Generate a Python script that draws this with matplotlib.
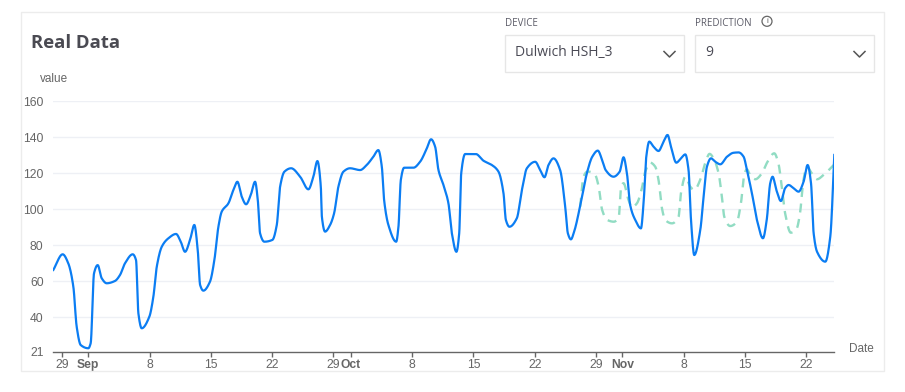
import numpy as np
import pandas as pd
import matplotlib
matplotlib.use("Agg")
import matplotlib.pyplot as plt
import matplotlib.dates as mdates
from matplotlib.patches import Rectangle, Circle

# data: days after Sep 1 and value
blue_days = [-4.0, -2.93, -2.29, -1.71, -1.33, -0.87, 0.0, 0.27, 0.65, 1.07, 1.53, 2.1, 3.05, 3.62,
             4.19, 5.07, 5.45, 5.72, 6.1, 6.97, 7.43, 7.82, 8.39, 9.15, 10.02, 10.56, 11.05, 11.62,
             12.11, 12.5, 12.77, 13.14, 13.9, 14.4, 14.86, 15.24, 16.0, 16.57, 17.03, 17.53, 18.02,
             18.56, 19.05, 19.36, 19.62, 20.11, 21.03, 21.53, 21.91, 22.4, 23.17, 24.2, 25.14, 25.71,
             26.17, 26.56, 26.68, 27.05, 27.62, 28.08, 28.57, 29.14, 29.9, 31.05, 31.8, 32.56, 33.13,
             33.53, 33.79, 34.28, 35.17, 35.43, 35.7, 36.08, 37.14, 37.9, 38.59, 39.16, 39.62, 40.0,
             40.57, 41.14, 41.53, 42.05, 42.37, 42.6, 43.05, 44.27, 45.14, 46.1, 46.86, 47.43, 47.7,
             48.11, 48.95, 49.53, 50.1, 51.05, 51.62, 52.11, 52.57, 53.14, 53.9, 54.48, 54.78, 55.13,
             55.5, 56.25, 57.0, 57.57, 58.2, 58.7, 59.1, 60.0, 60.7, 61.14, 61.53, 61.9, 62.48, 63.13,
             63.43, 63.74, 64.08, 64.57, 65.14, 65.71, 66.17, 66.56, 67.17, 67.7, 68.2, 68.57, 68.85,
             69.22, 69.91, 70.29, 70.67, 71.13, 71.62, 72.2, 72.96, 73.7, 74.29, 74.86, 75.24, 75.81,
             76.38, 77.07, 77.5, 77.9, 78.17, 78.6, 79.12, 79.6, 80.0, 80.57, 81.14, 81.71, 82.17,
             82.56, 82.86, 83.25, 84.19, 84.76, 85.15, 85.22]
blue_vals = [66.3, 75, 70, 57, 34.8, 24.6, 22.8, 25.6, 64.4, 69, 61.7, 58.9, 60.2, 63.5,
             70, 75, 71.8, 42.2, 33.9, 40.3, 51.4, 68.1, 79.2, 83.9, 86.3, 82, 76.4, 83,
             91.3, 77.4, 58, 54.8, 59.8, 71.8, 90.3, 98.7, 103.3, 110.7, 115.3, 107, 102.8,
             108, 115.3, 105.2, 86.7, 82, 83, 91.3, 112.6, 120.9, 122.8, 118.1, 111.1, 118.1,
             126.8, 112.6, 96, 87.6, 91.3, 97.8, 112.6, 120.9, 122.8, 121.8, 124.6, 129.2, 132.9,
             123.7, 105.2, 91.3, 82, 90.3, 116.3, 123.1, 123.1, 126.4, 132.9, 138.9, 134.8, 121.8,
             113.5, 103.3, 86.7, 76.4, 86.7, 120, 130.7, 130.7, 127, 124.6, 120.9, 108.9, 94.1,
             90.3, 95, 110.7, 122.8, 126.4, 121.8, 117.8, 124.6, 128.3, 121.8, 101.4, 86.7, 83.3,
             87.6, 103.3, 120.9, 129.2, 132.6, 127.4, 121.8, 118.1, 120.9, 128.9, 120, 102.4, 94.1, 89.4,
             103.3, 129.2, 137.6, 134.8, 132.4, 137.6, 141.3, 134.8, 125.9, 128.3, 130.5, 121.8, 94.1,
             74.6, 88.5, 107, 123.7, 128.3, 126.4, 125, 129.2, 131.4, 131.6, 129.2, 121.8, 108.9,
             94.1, 83.9, 94.1, 114.5, 118.1, 110.7, 104.6, 111.7, 113.5, 111.7, 109.8, 115.3, 124.6,
             114.5, 86.7, 76.4, 70.9, 84.8, 121.8, 130.2]

pred_days = [56.19, 56.57, 57.0, 57.2, 57.9, 58.3, 58.7, 59.27, 60.03, 60.6, 60.87, 61.14, 61.71,
             62.1, 62.67, 63.24, 63.62, 64.19, 64.76, 65.14, 65.53, 65.9, 66.67, 67.43, 67.7, 68.2,
             68.76, 69.22, 69.9, 70.47, 70.97, 71.43, 72.0, 72.38, 72.65, 73.33, 74.1, 74.55, 74.97,
             75.24, 75.6, 76.2, 76.95, 77.5, 78.36, 78.83, 79.22, 79.6, 80.25, 80.93, 81.3, 81.7,
             82.08, 82.65, 83.25, 84.0, 85.15]
pred_vals = [101.4, 118.1, 120.9, 120.9, 119.1, 112.6, 99.6, 94.1, 93.1, 95.9, 112.6, 114.5, 105.2,
             101.1, 103.3, 111.7, 120.9, 125.9, 123.7, 116.3, 100.6, 94.1, 92.2, 95.9, 108.9, 118.1,
             112.6, 110.7, 116.3, 125.6, 130.8, 128.3, 120, 107, 95.9, 90.7, 93.1, 103.3, 120,
             122.2, 119.1, 116.7, 120, 125.6, 131.1, 125.6, 112.6, 97.8, 87, 89.4, 97.8, 116.3,
             123.7, 120, 116.7, 119.1, 124.6]

tick_dates = ['2020-08-29', '2020-09-01', '2020-09-08', '2020-09-15', '2020-09-22', '2020-09-29',
              '2020-10-01', '2020-10-08', '2020-10-15', '2020-10-22', '2020-10-29', '2020-11-01',
              '2020-11-08', '2020-11-15', '2020-11-22']
tick_labels = ['29', 'Sep', '8', '15', '22', '29', 'Oct', '8', '15', '22', '29', 'Nov', '8', '15', '22']
y_ticks = [21, 40, 60, 80, 100, 120, 140, 160]

base = pd.Timestamp('2020-09-01')


def to_num(days):
    return mdates.date2num(base + pd.to_timedelta(days, unit='D'))


# monotone cubic (like the chart's curve), just for drawing the line
def monotone(x, y, n=24):
    x = np.asarray(x, float)
    y = np.asarray(y, float)
    h = np.diff(x)
    d = np.diff(y) / h
    m = np.zeros_like(y)
    m[0], m[-1] = d[0], d[-1]
    for i in range(1, len(x) - 1):
        if d[i - 1] * d[i] <= 0:
            m[i] = 0
        else:
            w1 = 2 * h[i] + h[i - 1]
            w2 = h[i] + 2 * h[i - 1]
            m[i] = (w1 + w2) / (w1 / d[i - 1] + w2 / d[i])
    xs, ys = [], []
    for i in range(len(x) - 1):
        t = np.linspace(0, 1, n, endpoint=False)
        h00 = 2 * t**3 - 3 * t**2 + 1
        h10 = t**3 - 2 * t**2 + t
        h01 = -2 * t**3 + 3 * t**2
        h11 = t**3 - t**2
        xs.append(x[i] + t * h[i])
        ys.append(h00 * y[i] + h10 * h[i] * m[i] + h01 * y[i + 1] + h11 * h[i] * m[i + 1])
    xs.append([x[-1]])
    ys.append([y[-1]])
    return np.concatenate(xs), np.concatenate(ys)


W, H = 905, 392
fig = plt.figure(figsize=(W / 100, H / 100), dpi=100)


def fx(px):
    return px / W


def fy(py):
    return 1 - py / H


ui_font = 'Open Sans'
tick_font = 'Liberation Sans'
gray = '#666666'

# card + header
fig.add_artist(Rectangle((fx(20.5), fy(371)), (884 - 20.5) / W, (371 - 11.5) / H,
                         transform=fig.transFigure, fill=False, ec='#ececec', lw=1))
fig.text(fx(31), fy(43), 'Real Data', fontsize=13.3, fontweight='bold', family=ui_font,
         color='#4a4a52', va='center')

for bx, label, val in [(504.5, 'DEVICE', 'Dulwich HSH_3'), (694.5, 'PREDICTION', '9')]:
    fig.add_artist(Rectangle((fx(bx), fy(71.5)), 179 / W, 36.5 / H, transform=fig.transFigure,
                             fill=False, ec='#e6e6e6', lw=1))
    fig.text(fx(bx + 0.5), fy(23.5), label, fontsize=7, family=ui_font, color='#5a5a66', va='center')
    fig.text(fx(bx + 10.5), fy(53), val, fontsize=10, family=ui_font, color='#4a4a55', va='center')
    cx = bx + 165
    fig.add_artist(plt.Line2D([fx(cx - 5.5), fx(cx), fx(cx + 5.5)], [fy(51.5), fy(57), fy(51.5)],
                              transform=fig.transFigure, color='#555555', lw=1.1))

# info icon next to PREDICTION (pixel-based so it stays round)
fig.add_artist(Circle((767 / 100, (H - 21.3) / 100), 0.05, transform=fig.dpi_scale_trans,
                      fill=False, ec=gray, lw=0.9))
fig.text(fx(767), fy(21.3), 'i', fontsize=6, family=tick_font, color=gray, ha='center', va='center')

# chart
ax = fig.add_axes([fx(53.3), fy(351.5), (834.3 - 53.3) / W, (351.5 - 101.3) / H])
bx_, by_ = monotone(to_num(blue_days), blue_vals)
px_, py_ = monotone(to_num(pred_days), pred_vals)
ax.plot(px_, py_, color='#91dcc3', lw=1.7, ls=(0, (3.8, 2.8)), zorder=2)
ax.plot(bx_, by_, color='#0b7df3', lw=1.6, zorder=3, solid_joinstyle='round')

ax.set_xlim(to_num(-4.0), to_num(blue_days[-1]))
ax.set_ylim(21, 160)

ax.set_yticks(y_ticks)
ax.set_yticklabels([str(v) for v in y_ticks], family=tick_font, fontsize=8.7, color=gray)
for v in y_ticks[1:]:
    ax.axhline(v, color='#eef0f5', lw=1, zorder=0)
ax.tick_params(axis='y', length=0, pad=7)

ax.set_xticks(mdates.date2num(pd.to_datetime(tick_dates)))
ax.set_xticklabels(tick_labels, family=tick_font, fontsize=8.7, color=gray)
for t in ax.get_xticklabels():
    if t.get_text() in ('Sep', 'Oct', 'Nov'):
        t.set_fontweight('bold')
ax.tick_params(axis='x', length=3.5, width=1, color=gray, pad=2)

for s in ['top', 'right', 'left']:
    ax.spines[s].set_visible(False)
ax.spines['bottom'].set_color(gray)
ax.spines['bottom'].set_linewidth(1)

fig.text(fx(40), fy(79), 'value', family=tick_font, fontsize=8.5, color=gray, va='center')
fig.text(fx(849.3), fy(349), 'Date', family=tick_font, fontsize=8.5, color=gray, va='center')

fig.savefig('out.png', dpi=100)
